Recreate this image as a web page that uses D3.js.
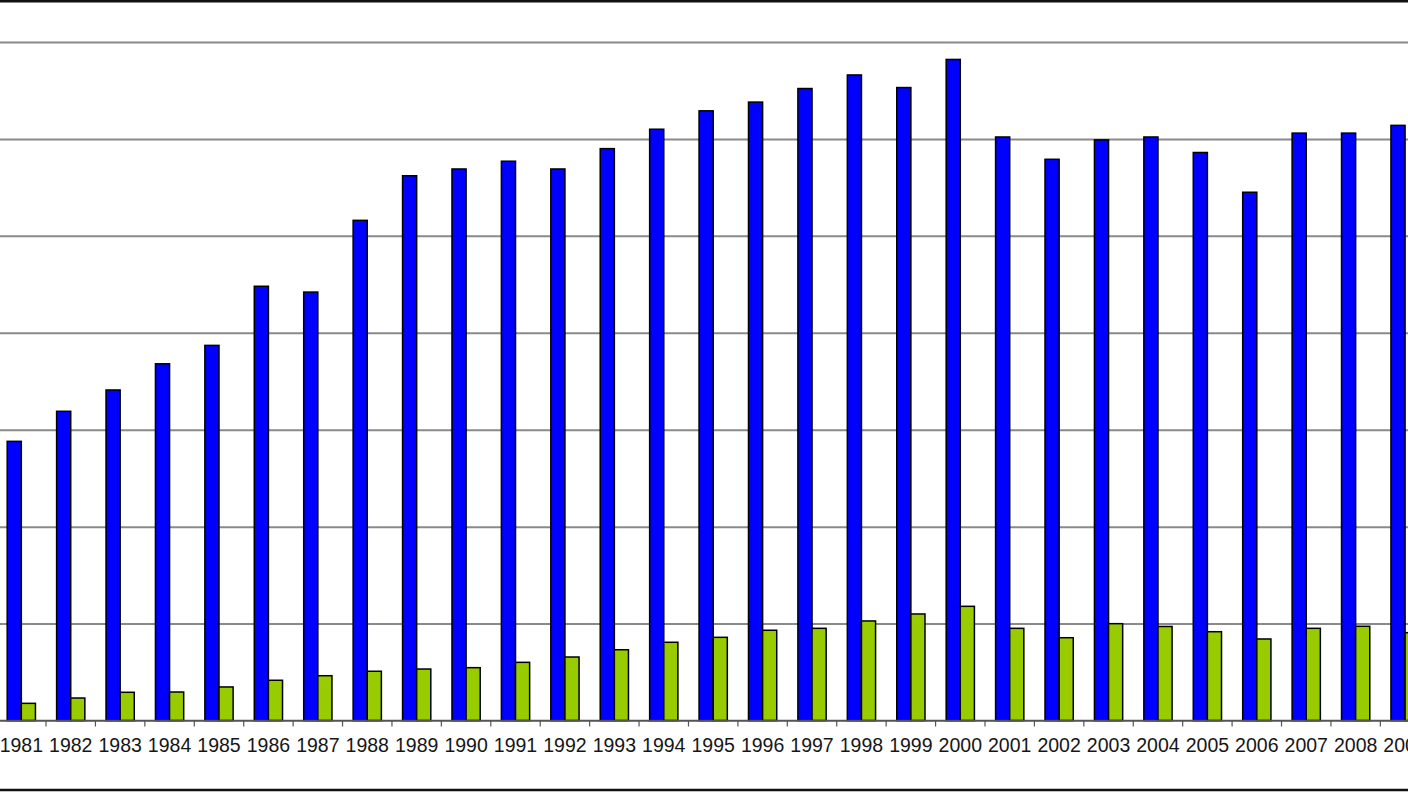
<!DOCTYPE html>
<html>
<head>
    <title>Grafico a colonne 1981-2009</title>
    <script src="https://d3js.org/d3.v7.min.js"></script>
    <style>
        body { margin: 0; background: #fff; }
        .grid line { stroke: #8a8a8a; stroke-width: 2; }
        .grid path { display: none; }
        .x-label { font-family: "Liberation Sans", Arial, sans-serif; font-size: 19.5px; fill: #161616; text-anchor: middle; }
        .bar { stroke: #000; stroke-width: 1.5; }
    </style>
</head>
<body>
<div id="chart"></div>
<script>
    // anni (asse x)
    const years = ["1981","1982","1983","1984","1985","1986","1987","1988","1989","1990",
                   "1991","1992","1993","1994","1995","1996","1997","1998","1999","2000",
                   "2001","2002","2003","2004","2005","2006","2007","2008","2009"];

    // serie blu (scala 0-700)
    const blueValues = [288, 319, 341, 368, 387, 448, 442, 516, 562, 569,
                        577, 569, 590, 610, 629, 638, 652, 666, 653, 682,
                        602, 579, 599, 602, 586, 545, 606, 606, 614];

    // serie verde
    const greenValues = [17.7, 23.2, 29.1, 29.4, 34.6, 41.5, 46.2, 50.8, 53.1, 54.5,
                         60.0, 65.5, 73.0, 80.7, 85.8, 93.1, 95.1, 102.7, 109.9, 117.8,
                         95.1, 85.4, 99.9, 97.0, 91.6, 84.1, 95.1, 97.2, 90.6];

    // linee della griglia
    const gridTicks = [0, 100, 200, 300, 400, 500, 600, 700];

    const width = 1408, height = 792;
    const plotTop = 42, plotBottom = 720.5;
    const step = 49.42, xStart = -3.4;

    const svg = d3.select("#chart").append("svg")
        .attr("width", width)
        .attr("height", height);

    // cornice (sopra e sotto)
    svg.append("line").attr("x1", 0).attr("x2", width).attr("y1", 1.2).attr("y2", 1.2)
        .attr("stroke", "#111").attr("stroke-width", 2.4);
    svg.append("line").attr("x1", 0).attr("x2", width).attr("y1", 790).attr("y2", 790)
        .attr("stroke", "#111").attr("stroke-width", 2.4);

    const x = d3.scaleBand()
        .domain(years)
        .range([xStart, xStart + step * years.length])
        .padding(0);

    const x1 = d3.scaleBand()
        .domain(["blue", "green"])
        .range([0, x.bandwidth()])
        .paddingInner(0)
        .paddingOuter(0.75);

    const y = d3.scaleLinear()
        .domain([0, 700])
        .range([plotBottom, plotTop]);

    // griglia orizzontale
    svg.append("g")
        .attr("class", "grid")
        .call(d3.axisLeft(y).tickValues(gridTicks).tickSize(-width).tickFormat(""))
        .attr("transform", "translate(0,0)");

    // barre blu
    svg.selectAll(".bar-blue")
        .data(years)
        .enter()
        .append("rect")
        .attr("class", "bar")
        .attr("x", (d, i) => x(d) + x1("blue"))
        .attr("y", (d, i) => y(blueValues[i]))
        .attr("width", x1.bandwidth())
        .attr("height", (d, i) => y(0) - y(blueValues[i]))
        .attr("fill", "#0000ff");

    // barre verdi
    svg.selectAll(".bar-green")
        .data(years)
        .enter()
        .append("rect")
        .attr("class", "bar")
        .attr("x", (d, i) => x(d) + x1("green"))
        .attr("y", (d, i) => y(greenValues[i]))
        .attr("width", x1.bandwidth())
        .attr("height", (d, i) => y(0) - y(greenValues[i]))
        .attr("fill", "#99cc00");

    // asse x: linea di base, tacche tra le categorie, etichette
    svg.append("line")
        .attr("x1", 0).attr("x2", width)
        .attr("y1", y(0)).attr("y2", y(0))
        .attr("stroke", "#555").attr("stroke-width", 1.5);

    svg.selectAll(".tick-mark")
        .data(years.slice(1))
        .enter()
        .append("line")
        .attr("x1", d => x(d)).attr("x2", d => x(d))
        .attr("y1", y(0)).attr("y2", y(0) + 6)
        .attr("stroke", "#555").attr("stroke-width", 1.2);

    svg.selectAll(".x-label")
        .data(years)
        .enter()
        .append("text")
        .attr("class", "x-label")
        .attr("x", d => x(d) + x.bandwidth() / 2)
        .attr("y", 752)
        .text(d => d);
</script>
</body>
</html>
